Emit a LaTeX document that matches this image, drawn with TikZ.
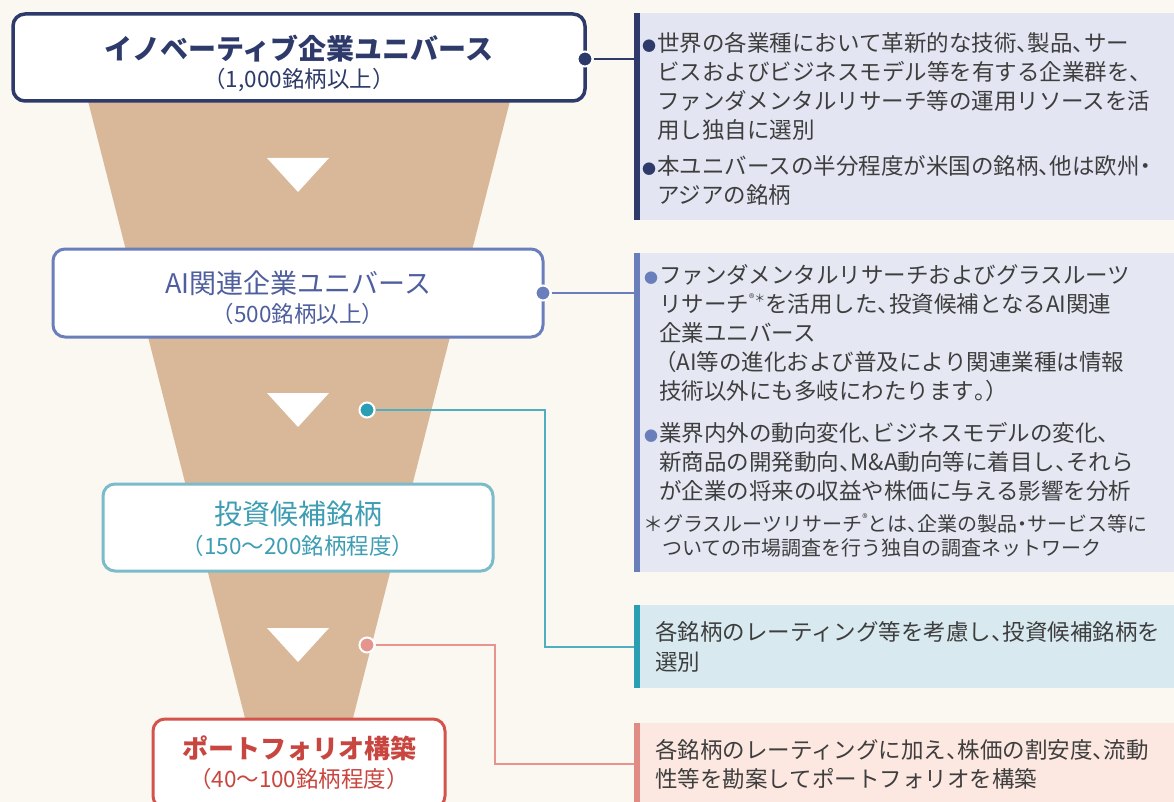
\documentclass[tikz,border=0pt]{standalone}
\usepackage{fontspec}
\setmainfont{Noto Sans CJK JP}
\usetikzlibrary{calc}
\definecolor{bgc}{HTML}{FAF8F0}
\definecolor{funnelc}{HTML}{D8B898}
\definecolor{navy}{HTML}{2D3A6A}
\definecolor{aiblue}{HTML}{6B7EBC}
\definecolor{aitext}{HTML}{4E5E9E}
\definecolor{tealbox}{HTML}{7BBBCA}
\definecolor{tealtext}{HTML}{3E9DB3}
\definecolor{tealc}{HTML}{2A9FB4}
\definecolor{tealline}{HTML}{4FAEBF}
\definecolor{redbox}{HTML}{D3544D}
\definecolor{redtext}{HTML}{C8463F}
\definecolor{pinkc}{HTML}{E5958E}
\definecolor{pinkbar}{HTML}{E08C84}
\definecolor{p1fill}{HTML}{E3E6F2}
\definecolor{p2fill}{HTML}{E5E8F3}
\definecolor{p3fill}{HTML}{D8EAF0}
\definecolor{p4fill}{HTML}{FCE8E1}
\definecolor{ptext}{HTML}{3E3E3E}
\newcommand\hw[1]{\makebox[0.5em][l]{#1}}
\newcommand\hc[1]{\makebox[0.5em][c]{#1}}
\newcommand\supr[1]{\raisebox{0.45em}{\fontsize{11}{11}\selectfont #1}}
\newcommand\bulnavy{\llap{\textcolor{navy}{\fontsize{14}{14}\selectfont ●}\hspace{1pt}}}
\newcommand\bulblue{\llap{\textcolor{aiblue}{\fontsize{14}{14}\selectfont ●}\hspace{1pt}}}
\tikzset{
  fbox/.style={draw, fill=white, rounded corners=12pt, inner sep=0pt},
  ttl/.style={inner sep=0pt, font=\fontsize{27}{30}\selectfont},
  sub/.style={inner sep=0pt, font=\fontsize{22.5}{24}\selectfont},
  panel/.style={anchor=north west, inner sep=0pt, minimum width=540pt},
  pl/.style={anchor=west, inner sep=0pt, text=ptext, font=\fontsize{22.5}{29}\selectfont, text height=19.5pt, text depth=3pt},
  fn/.style={anchor=west, inner sep=0pt, text=ptext, font=\fontsize{20}{24}\selectfont, text height=17.5pt, text depth=2.5pt},
  dot/.style={circle, inner sep=0pt, minimum size=15pt, draw=white, line width=2pt},
  conn/.style={line width=2pt}
}
\begin{document}
\begin{tikzpicture}[x=1pt,y=-1pt]
\useasboundingbox[fill=bgc] (0,0) rectangle (1174,802);
% funnel
\fill[funnelc] (88,101) -- (510,101) -- (352,722) -- (246,722) -- cycle;
% arrow triangles
\foreach \ty in {158,393,628}
  \fill[white] (267,\ty) -- (329,\ty) -- (298,\ty+34) -- cycle;
% boxes
\node[fbox, draw=navy, line width=3.5pt, minimum width=572pt, minimum height=87pt] (b1) at (299,57.5) {};
\node[fbox, draw=aiblue, line width=3pt, minimum width=490pt, minimum height=88pt] (b2) at (298,293) {};
\node[fbox, draw=tealbox, line width=3pt, minimum width=390pt, minimum height=87pt] (b3) at (298,527.5) {};
\node[fbox, draw=redbox, line width=3pt, minimum width=292pt, minimum height=89pt] (b4) at (299,763.5) {};
% box texts
\node[ttl, text=navy, font=\fontsize{28}{30}\selectfont\bfseries] (t1a) at (299,49) {イノベーティブ企業ユニバース};
\node[sub, text=navy] (t1b) at (299,80) {（1,000銘柄以上）};
\node[ttl, text=aitext] (t2a) at (298,283) {AI関連企業ユニバース};
\node[sub, text=aitext] (t2b) at (298,314) {（500銘柄以上）};
\node[ttl, text=tealtext, font=\fontsize{28}{30}\selectfont] (t3a) at (298,514) {投資候補銘柄};
\node[sub, text=tealtext] (t3b) at (298,546) {（150〜200銘柄程度）};
\node[ttl, text=redtext, font=\fontsize{26}{30}\selectfont\bfseries] (t4a) at (299,748) {ポートフォリオ構築};
\node[sub, text=redtext] (t4b) at (299,779) {（40〜100銘柄程度）};
% panels
\node[panel, fill=p1fill, minimum height=207pt] (p1) at (634,13) {};
\node[panel, fill=p2fill, minimum height=319pt] (p2) at (634,253) {};
\node[panel, fill=p3fill, minimum height=83pt] (p3) at (634,605) {};
\node[panel, fill=p4fill, minimum height=82pt] (p4) at (634,723) {};
\fill[navy] (p1.north west) rectangle ([xshift=6pt]p1.south west);
\fill[aiblue] (p2.north west) rectangle ([xshift=6pt]p2.south west);
\fill[tealc] (p3.north west) rectangle ([xshift=6pt]p3.south west);
\fill[pinkbar] (p4.north west) rectangle ([xshift=6pt]p4.south west);
% dots
\node[dot, fill=navy] (d1) at (585,59) {};
\node[dot, fill=aiblue] (d2) at (543,293) {};
\node[dot, fill=tealc] (d3) at (367,410) {};
\node[dot, fill=pinkc] (d4) at (367,645) {};
% connectors
\coordinate (c3) at (545,647);
\coordinate (c4) at (495,764);
\draw[conn, navy] (d1) -- (d1 -| p1.west);
\draw[conn, aiblue] (d2) -- (d2 -| p2.west);
\draw[conn, tealline] (d3) -| (c3) -- (c3 -| p3.west);
\draw[conn, pinkc] (d4) -| (c4) -- (c4 -| p4.west);
% panel 1 text
\node[pl] (l11) at (657,43) {\bulnavy 世界の各業種において革新的な技術\hw{、}製品\hw{、}サー};
\node[pl] (l12) at (657,72) {ビスおよびビジネスモデル等を有する企業群を\hw{、}};
\node[pl] (l13) at (657,101) {ファンダメンタルリサーチ等の運用リソースを活};
\node[pl] (l14) at (657,130) {用し独自に選別};
\node[pl] (l15) at (657,166) {\bulnavy 本ユニバースの半分程度が米国の銘柄\hw{、}他は欧州\hc{・}};
\node[pl] (l16) at (657,195) {アジアの銘柄};
% panel 2 text
\node[pl] (l21) at (659,275) {\bulblue ファンダメンタルリサーチおよびグラスルーツ};
\node[pl] (l22) at (659,304) {リサーチ\supr{®＊}を活用した\hw{、}投資候補となるAI関連};
\node[pl] (l23) at (659,333) {企業ユニバース};
\node[pl] (l24) at (654,362) {（AI等の進化および普及により関連業種は情報};
\node[pl] (l25) at (659,391) {技術以外にも多岐にわたります\hw{。}）};
\node[pl] (l26) at (659,433) {\bulblue 業界内外の動向変化\hw{、}ビジネスモデルの変化\hw{、}};
\node[pl] (l27) at (659,462) {新商品の開発動向\hw{、}M\&A動向等に着目し\hw{、}それら};
\node[pl] (l28) at (659,491) {が企業の将来の収益や株価に与える影響を分析};
\node[fn] (l29) at (643,524) {＊グラスルーツリサーチ\supr{®}とは\hw{、}企業の製品\hc{・}サービス等に};
\node[fn] (l2a) at (662,548) {ついての市場調査を行う独自の調査ネットワーク};
% panel 3 text
\node[pl] (l31) at (655,632) {各銘柄のレーティング等を考慮し\hw{、}投資候補銘柄を};
\node[pl] (l32) at (655,662) {選別};
% panel 4 text
\node[pl] (l41) at (655,750) {各銘柄のレーティングに加え\hw{、}株価の割安度\hw{、}流動};
\node[pl] (l42) at (655,779) {性等を勘案してポートフォリオを構築};
\end{tikzpicture}
\end{document}
